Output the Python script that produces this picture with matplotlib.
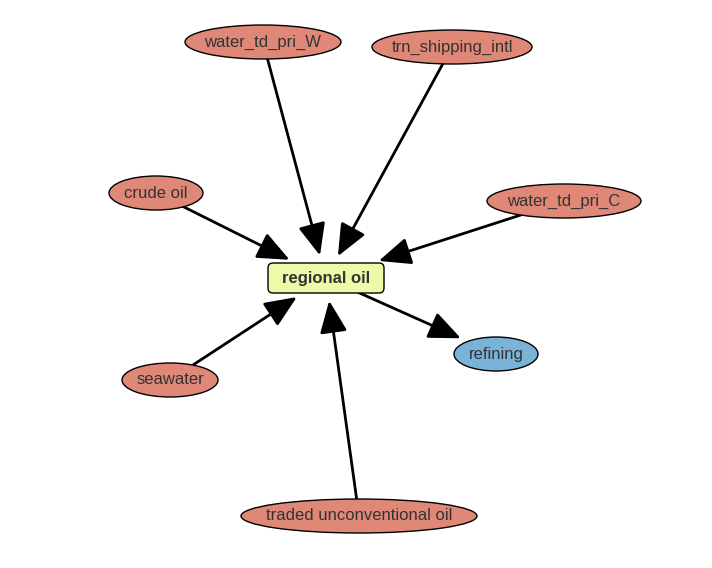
import matplotlib
matplotlib.use("Agg")
import matplotlib.pyplot as plt
from matplotlib.patches import Ellipse, FancyBboxPatch, FancyArrowPatch

node_names = ["regional oil", "water_td_pri_W", "trn_shipping_intl", "crude oil",
              "water_td_pri_C", "seawater", "refining", "traded unconventional oil"]
node_x = [326, 263, 452, 156, 564, 170, 496, 359]
node_y = [278, 42, 47, 193, 201, 380, 354, 516]
node_w = [116, 156, 160, 94, 154, 96, 84, 236]
node_kind = ["center", "in", "in", "in", "in", "in", "out", "in"]
edges = [("water_td_pri_W", "regional oil"), ("trn_shipping_intl", "regional oil"),
         ("crude oil", "regional oil"), ("water_td_pri_C", "regional oil"),
         ("seawater", "regional oil"), ("traded unconventional oil", "regional oil"),
         ("regional oil", "refining")]

colors = {"center": "#eefaa8", "in": "#e08878", "out": "#7ab3d8"}

fig = plt.figure(figsize=(7.12, 5.68), dpi=100)
ax = fig.add_axes([0, 0, 1, 1])
ax.set_xlim(0, 712)
ax.set_ylim(568, 0)
ax.axis("off")

patches = {}
for n, x, y, w, k in zip(node_names, node_x, node_y, node_w, node_kind):
    if k == "center":
        p = FancyBboxPatch((x - w / 2, y - 15), w, 30, boxstyle="round,pad=0,rounding_size=5",
                           fc=colors[k], ec="black", lw=1, zorder=3)
        ax.add_patch(p)
        ax.text(x, y, n, ha="center", va="center", fontsize=12, fontweight="bold",
                color="#333333", zorder=4, family="Liberation Sans")
    else:
        p = Ellipse((x, y), w, 34, fc=colors[k], ec="black", lw=1, zorder=3)
        ax.add_patch(p)
        ax.text(x, y, n, ha="center", va="center", fontsize=12, color="#333333",
                zorder=4, family="Liberation Sans")
    patches[n] = p

idx = {n: i for i, n in enumerate(node_names)}
for s, t in edges:
    a = FancyArrowPatch((node_x[idx[s]], node_y[idx[s]]), (node_x[idx[t]], node_y[idx[t]]),
                        patchA=patches[s], patchB=patches[t],
                        arrowstyle="-|>,head_length=1.4,head_width=0.6", mutation_scale=14,
                        lw=2, color="black", zorder=2, shrinkA=0, shrinkB=6)
    ax.add_patch(a)

fig.savefig("out.png", dpi=100)
